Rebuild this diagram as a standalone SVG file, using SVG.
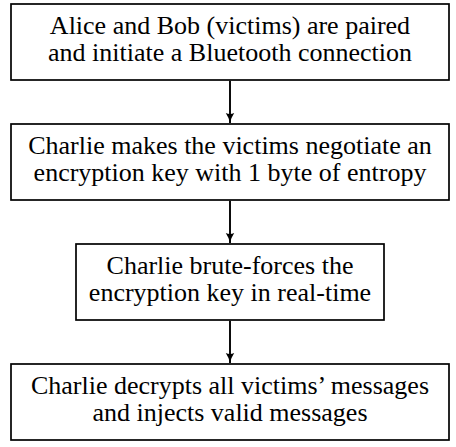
<svg xmlns="http://www.w3.org/2000/svg" width="456" height="447" viewBox="0 0 456 447">
<style>
.box{fill:#fff;stroke:#000;stroke-width:1.7}
.t{font-family:'Liberation Serif',serif;font-size:26px;fill:#000;text-anchor:middle}
.c{stroke:#000;stroke-width:1.9;fill:none;marker-end:url(#ah)}
</style>
<defs>
<marker id="ah" markerUnits="userSpaceOnUse" markerWidth="12" markerHeight="10" refX="10" refY="5" orient="auto">
<path d="M0,0.8 Q4.5,3.8 10,5 Q4.5,6.2 0,9.2 Q2,5 0,0.8 z" fill="#000"/>
</marker>
</defs>
<g id="connectors">
<path class="c" d="M230,80.8 V123"/>
<path class="c" d="M230,200.8 V243"/>
<path class="c" d="M230,320.8 V363"/>
</g>
<g id="n1">
<rect class="box" x="11" y="4" width="438" height="76"/>
<text class="t" x="230" y="34">Alice and Bob (victims) are paired</text>
<text class="t" x="230" y="61">and initiate a Bluetooth connection</text>
</g>
<g id="n2">
<rect class="box" x="11" y="124" width="438" height="76"/>
<text class="t" x="230" y="154">Charlie makes the victims negotiate an</text>
<text class="t" x="230" y="181">encryption key with 1 byte of entropy</text>
</g>
<g id="n3">
<rect class="box" x="76" y="244" width="308" height="76"/>
<text class="t" x="230" y="274">Charlie brute-forces the</text>
<text class="t" x="230" y="301">encryption key in real-time</text>
</g>
<g id="n4">
<rect class="box" x="11" y="364" width="438" height="76"/>
<text class="t" x="230" y="394">Charlie decrypts all victims’ messages</text>
<text class="t" x="230" y="421">and injects valid messages</text>
</g>
</svg>
